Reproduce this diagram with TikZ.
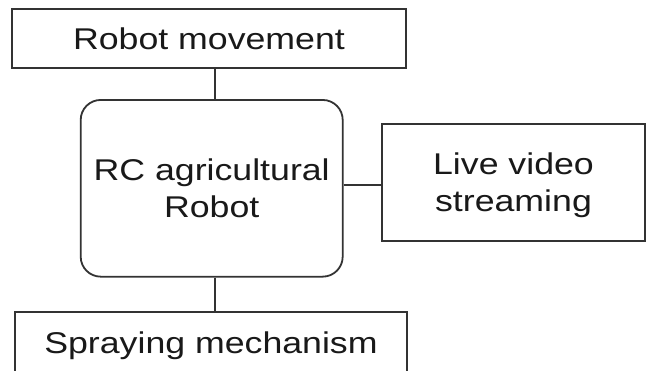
\documentclass[tikz,border=0pt]{standalone}
\usepackage{fontspec}
\setmainfont{Liberation Sans}[FakeStretch=1.19]
\begin{document}
\begin{tikzpicture}[x=1pt,y=-1pt,
  box/.style={draw=black!80,line width=1.8pt,fill=white,inner sep=0pt,align=center,
    font=\fontsize{30}{37}\selectfont,text=black!90},
  oneline/.style={text height=22pt,text depth=0pt},
  twoline/.style={text height=59pt,text depth=0pt},
  link/.style={draw=black!80,line width=1.8pt}]
\useasboundingbox (0,0) rectangle (646,370);
\fill[white] (0,0) rectangle (646,370);
\coordinate (cx) at (215,0);
\coordinate (hy) at (0,185);
\node[box,oneline,minimum width=394pt,minimum height=59pt] (top) at (209,38.5) {Robot movement};
\node[box,twoline,rounded corners=20pt,minimum width=262pt,minimum height=176.7pt] (center) at (211.7,188.3) {RC agricultural\\Robot};
\node[box,twoline,minimum width=263pt,minimum height=116.7pt] (right) at (513.5,182.4) {Live video\\streaming};
\node[box,oneline,minimum width=392pt,minimum height=60pt] (bottom) at (211,342) {Spraying mechanism};
\draw[link] (top.south -| cx) -- (center.north -| cx);
\draw[link] (center.south -| cx) -- (bottom.north -| cx);
\draw[link] (center.east |- hy) -- (right.west |- hy);
\end{tikzpicture}
\end{document}
